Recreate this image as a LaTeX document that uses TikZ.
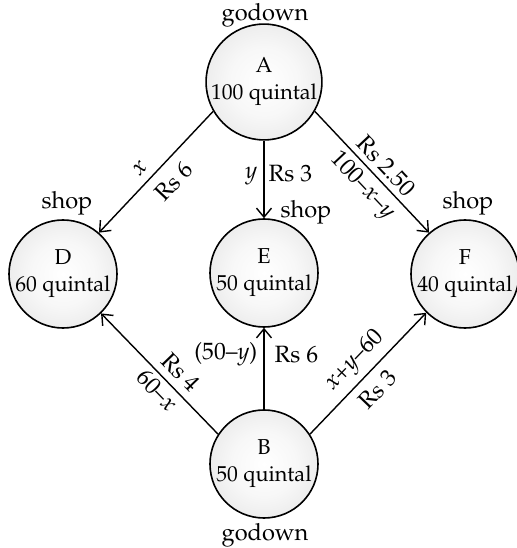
\documentclass[tikz,border=0pt]{standalone}
\usepackage[T1]{fontenc}
\usepackage{mathpazo}
\usetikzlibrary{arrows.meta}
\pgfdeclareradialshading{disc}{\pgfpointorigin}{color(0bp)=(white); color(15bp)=(white!97!black); color(50bp)=(white!83!black)}
\begin{document}
\begin{tikzpicture}[x=0.5pt,y=0.5pt,
  place/.style={circle, draw, line width=0.8pt, minimum size=54pt, inner sep=0pt, shading=disc, align=center, font=\fontsize{10.8}{13.5}\selectfont},
  arr/.style={line width=0.7pt, -{Straight Barb[length=4.5pt,width=7.5pt,line width=0.7pt]}},
  lab/.style={font=\fontsize{11.8}{14}\selectfont, inner sep=0pt},
]
\useasboundingbox (0,0) rectangle (517,548);
\node[place] (A) at (264,466) {A\\100 quintal};
\node[place] (D) at (63,274) {D\\60 quintal};
\node[place] (E) at (264,275) {E\\50 quintal};
\node[place] (F) at (465,274) {F\\40 quintal};
\node[place] (B) at (264,84) {B\\50 quintal};
\node[lab, anchor=base] (gA) at (265,527.5) {godown};
\node[lab, anchor=base] (gB) at (265,8) {godown};
\node[lab, anchor=base] (sD) at (67,340) {shop};
\node[lab, anchor=base] (sE) at (306,330) {shop};
\node[lab, anchor=base] (sF) at (468,340) {shop};
\draw[arr] (A.210) -- (D.49)
  node[lab,sloped,pos=.55,above=4pt]{\textit{x}}
  node[lab,sloped,pos=.47,below=5pt]{Rs 6};
\draw[arr] (A.south) -- (E.north)
  node[lab,pos=.46,left=3pt]{\textit{y}}
  node[lab,pos=.43,right=2pt]{Rs 3};
\draw[arr] (A.330) -- (F.131)
  node[lab,sloped,pos=.53,above=2.7pt]{Rs 2.50}
  node[lab,sloped,pos=.52,below=2.6pt]{100--\textit{x}--\textit{y}};
\draw[arr] (B.147) -- (D.314)
  node[lab,sloped,pos=.42,above=3.5pt]{Rs 4}
  node[lab,sloped,pos=.44,below=2pt]{60--\textit{x}};
\draw[arr] (B.north) -- (E.south)
  node[lab,pos=.67,left=3pt]{(50--\textit{y})}
  node[lab,pos=.67,right=5pt]{Rs 6};
\draw[arr] (B.33) -- (F.225)
  node[lab,sloped,pos=.50,above=3pt]{\textit{x}+\textit{y}--60}
  node[lab,sloped,pos=.47,below=4.2pt]{Rs 3};
\end{tikzpicture}
\end{document}
